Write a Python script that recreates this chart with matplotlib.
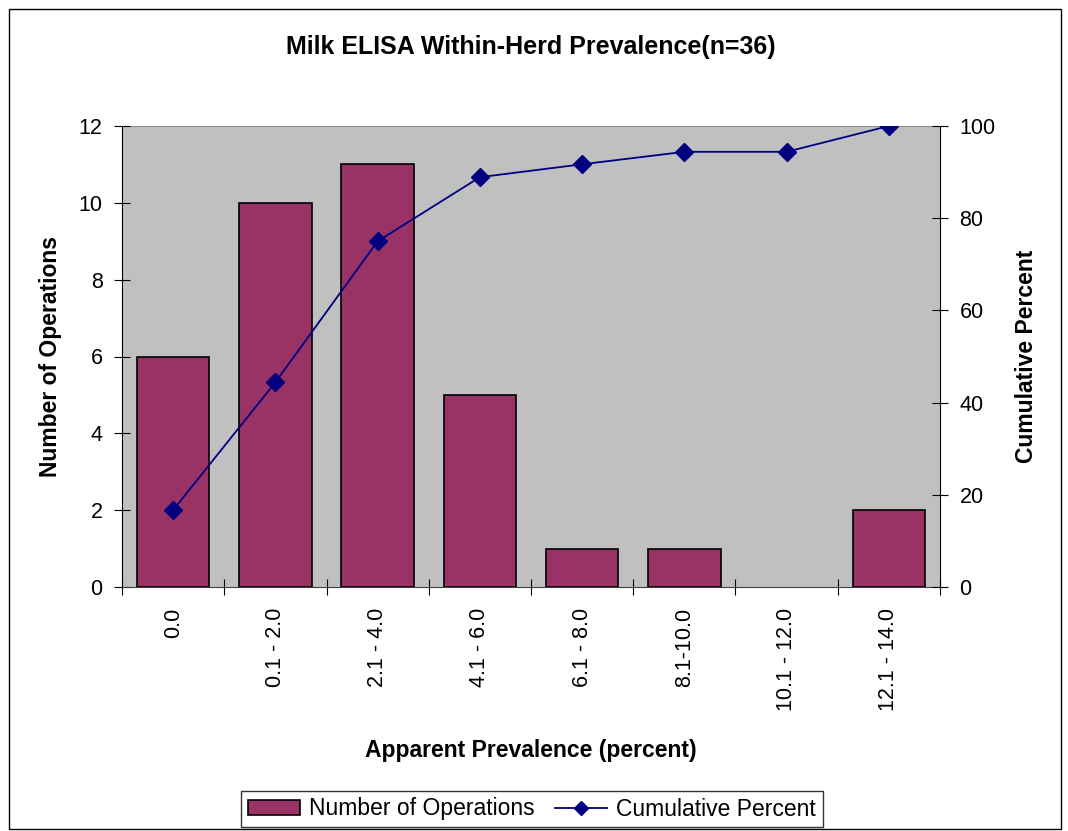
import matplotlib
matplotlib.use("Agg")
import matplotlib.pyplot as plt
from matplotlib.patches import Rectangle, Patch
from matplotlib.lines import Line2D

categories = ["0.0", "0.1 - 2.0", "2.1 - 4.0", "4.1 - 6.0", "6.1 - 8.0",
              "8.1-10.0", "10.1 - 12.0", "12.1 - 14.0"]
operations = [6, 10, 11, 5, 1, 1, 0, 2]
cumulative_pct = [16.7, 44.4, 75.0, 88.9, 91.7, 94.4, 94.4, 100.0]

plt.rcParams["font.family"] = ["Liberation Sans", "DejaVu Sans"]

W, H = 1068, 831
fig = plt.figure(figsize=(W / 100, H / 100), dpi=100)
fig.patches.append(Rectangle((9 / W, 1 - 829 / H), (1061 - 9) / W, (829 - 9) / H,
                             transform=fig.transFigure, fill=False,
                             edgecolor="black", linewidth=1))

ax = fig.add_axes([122 / W, 1 - 587 / H, (940 - 122) / W, (587 - 126) / H])
ax.set_facecolor("#c0c0c0")
x = list(range(len(categories)))
bars = ax.bar(x, operations, width=0.71, color="#993366", edgecolor="black",
              linewidth=1.2, zorder=2)
for b, v in zip(bars, operations):
    if v == 0:
        b.set_linewidth(0)
ax.set_xlim(-0.5, len(categories) - 0.5)
ax.set_ylim(0, 12)
ax.set_yticks(range(0, 13, 2))
ax.set_xticks([i - 0.5 for i in range(len(categories) + 1)])
ax.set_xticklabels([])
ax.set_xticks(x, minor=True)
ax.set_xticklabels(categories, minor=True, rotation=90, fontsize=15.5)
ax.tick_params(axis="x", which="minor", length=0, pad=15)
ax.tick_params(axis="x", which="major", direction="inout", length=12, color="black")
ax.tick_params(axis="y", direction="inout", length=12, labelsize=15.5, pad=8)
for s in ["top", "right"]:
    ax.spines[s].set_visible(False)
ax.spines["left"].set_color("black")
ax.spines["bottom"].set_color("#404040")
ax.axhline(12, color="#808080", linewidth=1.2, zorder=1)
ax.set_ylabel("Number of Operations", fontsize=16.5, fontweight="bold", labelpad=12)
ax.set_xlabel("Apparent Prevalence (percent)", fontsize=16.5, fontweight="bold", labelpad=20)

ax2 = ax.twinx()
ax2.plot(x, cumulative_pct, color="#000080", marker="D", markersize=9, linewidth=1.3)
ax2.set_ylim(0, 100)
ax2.set_yticks(range(0, 101, 20))
ax2.tick_params(axis="y", direction="inout", length=12, labelsize=15.5, pad=8)
for s in ["top", "left", "bottom"]:
    ax2.spines[s].set_visible(False)
ax2.spines["right"].set_color("black")
ax2.set_ylabel("Cumulative Percent", fontsize=16.5, fontweight="bold", labelpad=14)

fig.text((122 + 940) / 2 / W, 1 - 47 / H, "Milk ELISA Within-Herd Prevalence(n=36)",
         ha="center", va="center", fontsize=18, fontweight="bold")

handles = [Patch(facecolor="#993366", edgecolor="black", linewidth=1.2),
           Line2D([], [], color="#000080", marker="D", markersize=7, linewidth=1.3)]
leg = fig.legend(handles, ["Number of Operations", "Cumulative Percent"],
                 loc="center", bbox_to_anchor=(532 / W, 1 - 809 / H), ncol=2,
                 fontsize=16.5, frameon=True, fancybox=False, handlelength=2.27,
                 handleheight=0.6, columnspacing=0.9, handletextpad=0.4,
                 borderpad=0.3, borderaxespad=0)
leg.get_frame().set_edgecolor("black")
leg.get_frame().set_linewidth(1)

fig.savefig("out.png", dpi=100)
